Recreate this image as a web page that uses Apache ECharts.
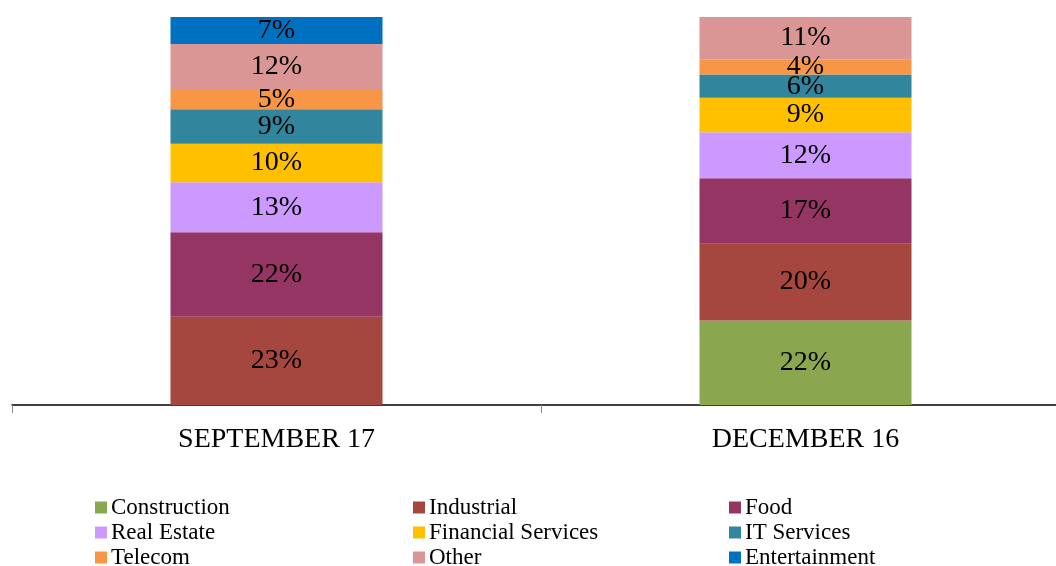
<!DOCTYPE html>
<html>
<head>
<meta charset="utf-8">
<script src="https://cdn.jsdelivr.net/npm/echarts@6/dist/echarts.min.js"></script>
<style>
  html, body { margin: 0; padding: 0; background: #fff; }
  #chart { width: 1056px; height: 566px; }
</style>
</head>
<body>
<div id="chart"></div>
<script>
// 分类与数据
const categories = ["SEPTEMBER 17", "DECEMBER 16"];
const seriesNames = ["Construction", "Industrial", "Food", "Real Estate", "Financial Services", "IT Services", "Telecom", "Other", "Entertainment"];
const construction = [0, 22];
const industrial = [23, 20];
const food = [22, 17];
const realEstate = [13, 12];
const financialServices = [10, 9];
const itServices = [9, 6];
const telecom = [5, 4];
const other = [12, 11];
const entertainment = [7, 0];

const seriesValues = [construction, industrial, food, realEstate, financialServices, itServices, telecom, other, entertainment];
const colors = ["#8AA64E", "#A5473F", "#953563", "#CC99FF", "#FFC000", "#31859C", "#F79646", "#D99694", "#0070C0"];

const font = "'Liberation Serif', 'Times New Roman', serif";
const chart = echarts.init(document.getElementById("chart"), null, { renderer: "canvas" });

const series = seriesNames.map(function (name, i) {
  return {
    name: name,
    type: "bar",
    stack: "total",
    barWidth: 212,
    itemStyle: { color: colors[i] },
    label: {
      show: true,
      position: "inside",
      color: "#000",
      fontFamily: font,
      fontSize: 28,
      formatter: function (p) {
        return p.value ? p.value + "%" : "";
      },
    },
    emphasis: { disabled: true },
    data: seriesValues[i],
  };
});

// 图例分三列
function legendColumn(names, left) {
  return {
    orient: "vertical",
    left: left,
    top: 496,
    height: 80,
    padding: 0,
    itemWidth: 12,
    itemHeight: 12,
    itemGap: 2,
    icon: "rect",
    selectedMode: false,
    textStyle: { fontFamily: font, fontSize: 23, color: "#000", padding: [0, 0, 0, -1] },
    data: names,
  };
}

const option = {
  animation: false,
  grid: { left: 12, top: 17, right: -14, height: 388, outerBoundsMode: "none" },
  legend: [
    legendColumn(["Construction", "Real Estate", "Telecom"], 95),
    legendColumn(["Industrial", "Financial Services", "Other"], 413),
    legendColumn(["Food", "IT Services", "Entertainment"], 729),
  ],
  xAxis: {
    type: "category",
    data: categories,
    axisLine: { lineStyle: { color: "#000", width: 1.5 } },
    axisTick: { show: true, length: 8, lineStyle: { color: "#888" } },
    axisLabel: { fontFamily: font, fontSize: 28, color: "#000", margin: 21 },
  },
  yAxis: {
    type: "value",
    min: 0,
    max: 101,
    show: false,
    splitLine: { show: false },
  },
  series: series,
};

chart.setOption(option);
</script>
</body>
</html>
